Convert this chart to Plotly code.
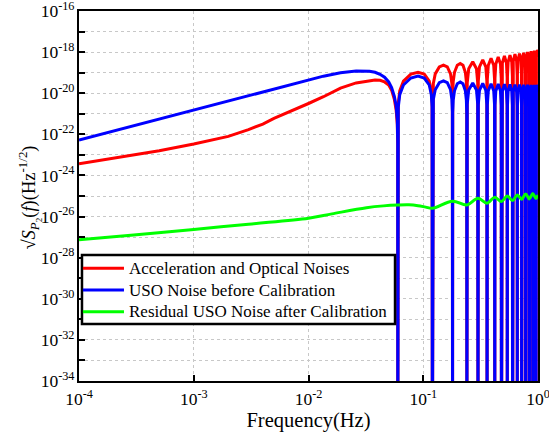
import plotly.graph_objects as go

# ---------------- data (log10 of amplitude) ----------------
FREQ = [
    1e-4, 2e-4, 5e-4, 1e-3, 2e-3, 3e-3, 4e-3, 5e-3, 7e-3, 1e-2, 1.35e-2, 1.9e-2,
    2.6e-2, 3.4e-2, 3.8e-2, 4.2e-2, 4.6e-2, 5.0e-2, 5.3e-2, 5.6e-2, 5.8e-2, 5.94e-2, 5.99e-2, 0.06,
    0.0606, 0.0624, 0.0672, 0.078, 0.09, 0.102, 0.1128, 0.1176, 0.1194, 0.12,
    0.1206, 0.1224, 0.1272, 0.138, 0.15, 0.162, 0.1728, 0.1776, 0.1794, 0.18,
    0.1806, 0.1824, 0.1872, 0.198, 0.21, 0.222, 0.2328, 0.2376, 0.2394, 0.24,
    0.2418, 0.249, 0.27, 0.291, 0.2982, 0.30,
    0.3018, 0.309, 0.33, 0.351, 0.3582, 0.36,
    0.3618, 0.369, 0.39, 0.411, 0.4182, 0.42,
    0.4218, 0.429, 0.45, 0.471, 0.4782, 0.48,
    0.4818, 0.489, 0.51, 0.531, 0.5382, 0.54,
    0.5418, 0.549, 0.57, 0.591, 0.5982, 0.60,
    0.6018, 0.609, 0.63, 0.651, 0.6582, 0.66,
    0.6618, 0.669, 0.69, 0.711, 0.7182, 0.72,
    0.7218, 0.729, 0.75, 0.771, 0.7782, 0.78,
    0.7818, 0.789, 0.81, 0.831, 0.8382, 0.84,
    0.8418, 0.849, 0.87, 0.891, 0.8982, 0.90,
    0.9018, 0.909, 0.93, 0.951, 0.9582, 0.96,
    0.9618, 0.969, 0.99, 1.0,
]

ACC_OPT_EXP = [
    -23.43, -23.15, -22.8, -22.47, -22.1, -21.77, -21.5, -21.22, -20.88, -20.5, -20.17, -19.75,
    -19.5, -19.38, -19.36, -19.37, -19.45, -19.6, -19.85, -20.3, -20.8, -21.5, -22.5, -40,
    -20.48, -19.88, -19.41, -19.07, -18.98, -19.07, -19.41, -19.88, -20.48, -40,
    -20.13, -19.53, -19.06, -18.72, -18.63, -18.72, -19.06, -19.53, -20.13, -40,
    -20.05, -19.45, -18.98, -18.64, -18.55, -18.64, -18.98, -19.45, -20.05, -40,
    -19.5, -18.81, -18.47, -18.81, -19.5, -40,
    -19.41, -18.72, -18.38, -18.72, -19.41, -40,
    -19.33, -18.64, -18.3, -18.64, -19.33, -40,
    -19.27, -18.58, -18.24, -18.58, -19.27, -40,
    -19.22, -18.53, -18.19, -18.53, -19.22, -40,
    -19.18, -18.49, -18.15, -18.49, -19.18, -40,
    -19.13, -18.44, -18.1, -18.44, -19.13, -40,
    -19.1, -18.41, -18.07, -18.41, -19.1, -40,
    -19.06, -18.37, -18.03, -18.37, -19.06, -40,
    -19.03, -18.34, -18.0, -18.34, -19.03, -40,
    -18.99, -18.3, -17.96, -18.3, -18.99, -40,
    -18.96, -18.27, -17.93, -18.27, -18.96, -40,
    -18.93, -18.24, -17.9, -17.96,
]

USO_BEFORE_EXP = [
    -22.28, -21.84, -21.25, -20.82, -20.38, -20.12, -19.93, -19.79, -19.57, -19.35, -19.17, -19.0,
    -18.92, -18.93, -18.98, -19.08, -19.22, -19.45, -19.72, -20.15, -20.6, -21.3, -22.3, -40,
    -20.67, -20.07, -19.6, -19.26, -19.17, -19.26, -19.6, -20.07, -20.67, -40,
    -20.9, -20.3, -19.83, -19.49, -19.4, -19.49, -19.83, -20.3, -20.9, -40,
    -20.95, -20.35, -19.88, -19.54, -19.45, -19.54, -19.88, -20.35, -20.95, -40,
    -20.53, -19.84, -19.5, -19.84, -20.53, -40,
    -20.55, -19.86, -19.52, -19.86, -20.55, -40,
    -20.57, -19.88, -19.54, -19.88, -20.57, -40,
    -20.58, -19.89, -19.55, -19.89, -20.58, -40,
    -20.59, -19.9, -19.56, -19.9, -20.59, -40,
    -20.6, -19.91, -19.57, -19.91, -20.6, -40,
    -20.61, -19.92, -19.58, -19.92, -20.61, -40,
    -20.61, -19.92, -19.58, -19.92, -20.61, -40,
    -20.62, -19.93, -19.59, -19.93, -20.62, -40,
    -20.62, -19.93, -19.59, -19.93, -20.62, -40,
    -20.63, -19.94, -19.6, -19.94, -20.63, -40,
    -20.63, -19.94, -19.6, -19.94, -20.63, -40,
    -20.63, -19.94, -19.6, -19.67,
]

RESID_FREQ = [
    1e-4, 3e-4, 1e-3, 3e-3, 1e-2, 1.6e-2, 3.2e-2, 4.5e-2, 6e-2, 7.5e-2, 9e-2, 0.105,
    0.12, 0.18, 0.24, 0.30, 0.36, 0.42, 0.48, 0.54, 0.60, 0.66, 0.72, 0.78, 0.84, 0.90, 0.96, 1.0,
]
RESID_EXP = [
    -27.13, -26.9, -26.63, -26.37, -26.08, -25.87, -25.57, -25.48, -25.44, -25.43, -25.47, -25.54,
    -25.6, -25.25, -25.44, -25.11, -25.35, -25.06, -25.27, -25.0, -25.22, -24.95, -25.16, -24.9,
    -25.14, -24.88, -25.12, -24.95,
]

SERIES_NAMES = [
    "Acceleration and Optical Noises",
    "USO Noise before Calibration",
    "Residual USO Noise after Calibration",
]
SERIES_COLORS = ["#FF0000", "#0000FF", "#00FF00"]

X_TICKS = [1e-4, 1e-3, 1e-2, 1e-1, 1e0]
X_TICK_TEXT = ["10<sup>-4</sup>", "10<sup>-3</sup>", "10<sup>-2</sup>", "10<sup>-1</sup>", "10<sup>0</sup>"]
Y_EXPONENTS = list(range(-34, -15))
Y_TICKS = [10.0 ** e for e in Y_EXPONENTS]
Y_TICK_TEXT = [("10<sup>%d</sup>" % e) if e % 2 == 0 else "" for e in Y_EXPONENTS]

Y_TITLE = "√<i>S</i><sub><i>P</i><sub>2</sub></sub>(<i>f</i>)(Hz<sup>-1/2</sup>)"
X_TITLE = "Frequency(Hz)"

# ---------------- figure ----------------
SERIF = "Liberation Serif, Times New Roman, serif"

fig = go.Figure()
fig.add_trace(go.Scatter(x=FREQ, y=[10.0 ** v for v in ACC_OPT_EXP], mode="lines",
                         name=SERIES_NAMES[0], line=dict(color=SERIES_COLORS[0], width=3),
                         showlegend=False))
fig.add_trace(go.Scatter(x=FREQ, y=[10.0 ** v for v in USO_BEFORE_EXP], mode="lines",
                         name=SERIES_NAMES[1], line=dict(color=SERIES_COLORS[1], width=3),
                         showlegend=False))
fig.add_trace(go.Scatter(x=RESID_FREQ, y=[10.0 ** v for v in RESID_EXP], mode="lines",
                         name=SERIES_NAMES[2],
                         line=dict(color=SERIES_COLORS[2], width=3, shape="spline", smoothing=1.0),
                         showlegend=False))

axis_common = dict(
    type="log", showline=True, linecolor="black", linewidth=2, mirror=True,
    ticks="inside", ticklen=6, tickwidth=1.5, tickcolor="black",
    showgrid=True, gridcolor="#c8c8c8", gridwidth=1, griddash="dot",
    zeroline=False, automargin=False, ticklabeloverflow="allow",
    tickfont=dict(family=SERIF, size=17.5, color="black"),
)

# legend key (paper coordinates of the plot area)
LEG_X0, LEG_X1, LEG_Y0, LEG_Y1 = 0.0065, 0.6885, 0.154, 0.3405
LEG_ROWS = [0.3046, 0.2459, 0.1873]
shapes = [dict(type="rect", xref="paper", yref="paper", x0=LEG_X0, x1=LEG_X1, y0=LEG_Y0, y1=LEG_Y1,
               line=dict(color="black", width=2.5), fillcolor="white", layer="above")]
annotations = []
for name, color, yrow in zip(SERIES_NAMES, SERIES_COLORS, LEG_ROWS):
    shapes.append(dict(type="line", xref="paper", yref="paper", x0=LEG_X0 + 0.002, x1=0.098,
                       y0=yrow, y1=yrow, line=dict(color=color, width=3), layer="above"))
    annotations.append(dict(xref="paper", yref="paper", x=0.1055, y=yrow, text=name,
                            showarrow=False, xanchor="left", yanchor="middle",
                            font=dict(family=SERIF, size=17, color="black")))

# y-axis title
annotations.append(dict(xref="paper", yref="paper", x=-0.108, y=0.497, text=Y_TITLE,
                        textangle=-90, showarrow=False, xanchor="center", yanchor="middle",
                        font=dict(family=SERIF, size=18.5, color="black")))

fig.update_layout(
    width=549, height=439,
    margin=dict(l=79, r=11, t=11, b=58),
    paper_bgcolor="white", plot_bgcolor="white",
    font=dict(family=SERIF, color="black"),
    xaxis=dict(axis_common, range=[-4, 0], tickmode="array", tickvals=X_TICKS, ticktext=X_TICK_TEXT,
               ticklabelstandoff=1,
               title=dict(text=X_TITLE, font=dict(family=SERIF, size=20.5), standoff=1)),
    yaxis=dict(axis_common, range=[-34, -16], tickmode="array", tickvals=Y_TICKS, ticktext=Y_TICK_TEXT,
               ticklabelstandoff=-1),
    shapes=shapes,
    annotations=annotations,
    showlegend=False,
)

# remove the browser's default 8px page margin so the figure fills the window exactly
fig.write_html("out.html", config={"displayModeBar": False},
               post_script="document.body.style.margin='0px';document.body.style.padding='0px';")
